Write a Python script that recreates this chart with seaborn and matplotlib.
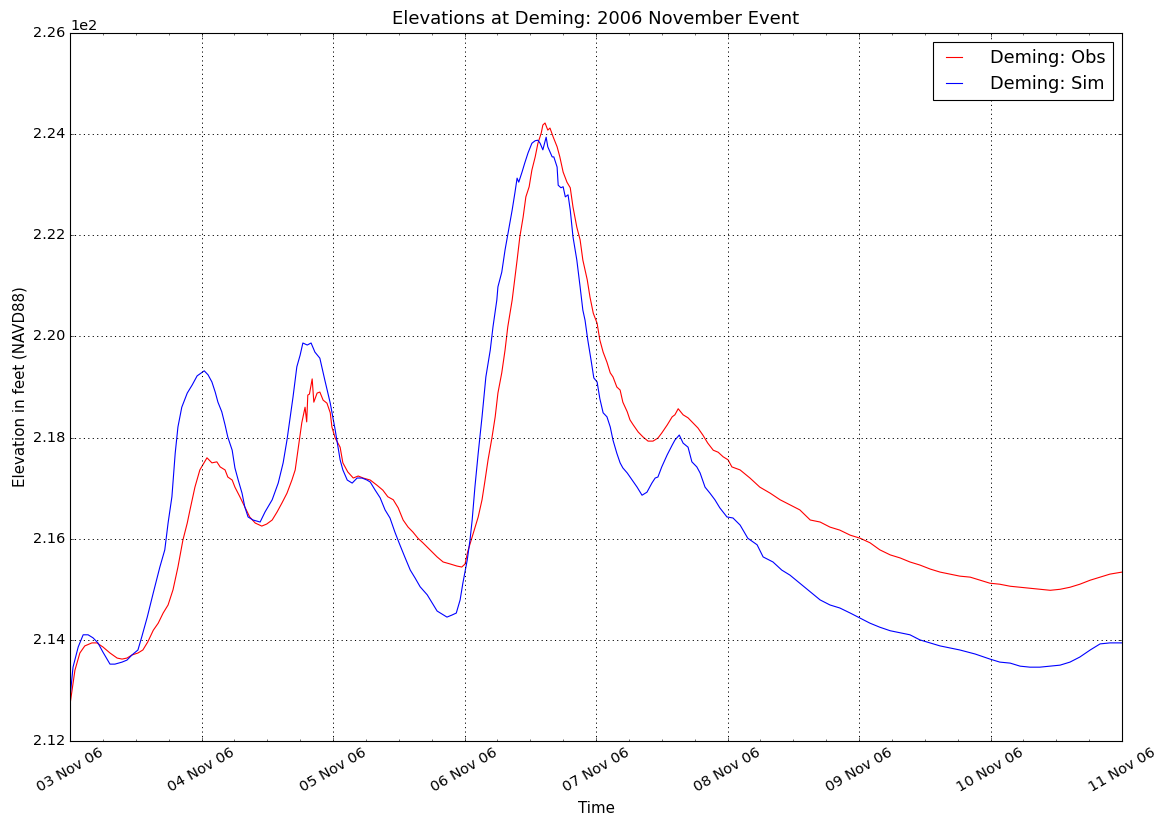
import matplotlib
matplotlib.use("Agg")
import matplotlib.pyplot as plt
import matplotlib.dates as mdates
import numpy as np
import pandas as pd
import seaborn as sns

# Hours after 03 Nov 2006 00:00 and stage (ft, NAVD88) at Deming
obs_hours = [0.0, 0.9, 1.8, 2.7, 4.0, 4.9, 6.0, 7.3, 8.6, 9.5, 10.4, 11.3, 12.4, 13.3,
             14.2, 15.2, 16.1, 17.0, 17.9, 18.8, 19.7, 20.6, 21.4, 21.9, 22.8, 23.7,
             25.0, 25.9, 26.8, 27.4, 28.3, 28.8, 29.6, 30.1, 31.0, 31.9, 32.8, 33.8,
             35.0, 35.9, 36.9, 37.8, 38.7, 39.6, 40.5, 41.1, 41.6, 42.3, 42.9, 43.2,
             43.4, 43.7, 44.2, 44.5, 45.1, 45.6, 46.2, 46.9, 47.5, 47.8, 48.4, 49.3,
             49.8, 50.7, 51.7, 52.6, 53.5, 54.8, 56.0, 57.1, 58.0, 59.0, 59.9, 60.8,
             61.7, 62.6, 63.5, 64.4, 65.7, 67.0, 68.1, 69.4, 70.6, 71.5, 72.1, 72.6,
             73.6, 74.5, 75.2, 75.7, 76.3, 77.0, 77.6, 78.1, 78.8, 79.4, 79.9, 80.7,
             81.6, 82.1, 82.7, 83.2, 83.8, 84.3, 84.9, 85.4, 86.0, 86.3, 86.7, 87.2,
             87.6, 88.2, 88.9, 89.4, 90.0, 90.7, 91.3, 91.8, 92.5, 93.1, 93.6, 94.4,
             94.9, 95.5, 96.2, 96.7, 97.3, 98.0, 98.6, 99.1, 99.8, 100.4, 100.9, 101.7,
             102.2, 102.8, 103.7, 104.6, 105.5, 106.4, 107.3, 108.0, 109.0, 109.9,
             110.4, 111.0, 111.9, 112.8, 113.7, 114.6, 115.5, 116.4, 117.4, 118.3,
             119.2, 120.1, 120.8, 122.3, 124.1, 125.9, 127.8, 129.6, 131.4, 133.2,
             135.1, 136.9, 138.7, 140.5, 142.4, 144.2, 146.0, 147.8, 149.7, 151.5,
             153.3, 155.1, 157.0, 158.8, 160.6, 162.4, 164.3, 166.1, 167.9, 169.7,
             171.6, 173.4, 175.2, 177.0, 178.9, 180.7, 182.5, 184.3, 186.2, 188.0,
             189.8, 192.0]
obs_feet = [212.72, 213.40, 213.74, 213.88, 213.94, 213.94, 213.86, 213.74, 213.64,
            213.62, 213.64, 213.70, 213.74, 213.80, 213.96, 214.19, 214.33, 214.53,
            214.69, 214.99, 215.44, 215.97, 216.31, 216.57, 217.02, 217.36, 217.60,
            217.50, 217.52, 217.42, 217.36, 217.22, 217.16, 217.02, 216.83, 216.63,
            216.43, 216.31, 216.25, 216.29, 216.37, 216.53, 216.71, 216.90, 217.16,
            217.36, 217.75, 218.29, 218.60, 218.31, 218.84, 218.86, 219.16, 218.70,
            218.88, 218.90, 218.74, 218.68, 218.49, 218.21, 217.99, 217.81, 217.50,
            217.32, 217.20, 217.24, 217.20, 217.16, 217.06, 216.96, 216.83, 216.77,
            216.61, 216.37, 216.23, 216.13, 216.01, 215.92, 215.78, 215.64, 215.54,
            215.50, 215.46, 215.44, 215.50, 215.75, 216.11, 216.43, 216.77, 217.12,
            217.56, 217.99, 218.41, 218.88, 219.28, 219.73, 220.19, 220.72, 221.51,
            221.97, 222.36, 222.76, 222.96, 223.29, 223.55, 223.82, 224.02, 224.18,
            224.22, 224.08, 224.12, 223.94, 223.75, 223.55, 223.25, 223.05, 222.94,
            222.56, 222.16, 221.91, 221.51, 221.12, 220.78, 220.46, 220.26, 219.93,
            219.69, 219.49, 219.28, 219.20, 219.00, 218.94, 218.70, 218.51, 218.35,
            218.25, 218.11, 218.01, 217.93, 217.93, 217.99, 218.09, 218.25, 218.41,
            218.45, 218.57, 218.45, 218.39, 218.29, 218.19, 218.05, 217.89, 217.75,
            217.71, 217.62, 217.56, 217.42, 217.36, 217.20, 217.02, 216.90, 216.77,
            216.67, 216.57, 216.37, 216.33, 216.23, 216.17, 216.07, 216.01, 215.92,
            215.78, 215.68, 215.62, 215.54, 215.48, 215.40, 215.34, 215.30, 215.26,
            215.24, 215.18, 215.12, 215.10, 215.06, 215.04, 215.02, 215.00, 214.98,
            215.00, 215.04, 215.10, 215.18, 215.24, 215.30, 215.34]

sim_hours = [0.0, 0.55, 1.5, 2.4, 3.3, 4.2, 5.1, 6.0, 7.3, 8.2, 9.5, 10.4, 11.3, 12.4,
             13.1, 14.1, 15.2, 16.4, 17.3, 17.9, 18.6, 19.2, 19.7, 20.4, 21.4, 22.3,
             23.2, 24.5, 25.2, 25.9, 26.5, 27.0, 27.7, 28.3, 28.8, 29.6, 30.1, 30.7,
             31.4, 31.9, 32.5, 33.4, 34.7, 35.6, 36.9, 38.0, 38.9, 39.6, 40.2, 40.7,
             41.4, 42.0, 42.5, 43.3, 44.0, 44.7, 45.6, 46.5, 47.5, 48.4, 49.3, 49.8,
             50.6, 51.5, 52.4, 53.3, 54.2, 54.8, 55.7, 56.6, 57.5, 58.4, 59.3, 60.2,
             61.1, 62.1, 63.0, 63.9, 65.2, 66.1, 67.0, 67.9, 68.8, 69.7, 70.5, 71.2,
             71.7, 72.5, 73.0, 73.4, 73.9, 74.5, 75.2, 75.9, 76.7, 77.2, 77.9, 78.1,
             78.8, 79.4, 79.9, 80.7, 81.2, 81.6, 81.9, 82.5, 83.0, 83.6, 84.3, 84.9,
             85.4, 85.8, 86.3, 86.9, 87.2, 88.0, 88.3, 88.9, 89.1, 89.6, 90.0, 90.4,
             90.9, 91.3, 91.8, 92.5, 93.1, 93.6, 94.0, 94.5, 95.1, 95.6, 96.2, 96.7,
             97.3, 98.0, 98.6, 99.1, 99.8, 100.4, 100.9, 101.7, 102.6, 103.5, 104.4,
             105.3, 106.2, 106.8, 107.3, 108.0, 109.0, 109.9, 110.4, 111.2, 111.9,
             112.8, 113.5, 114.4, 115.0, 115.9, 116.8, 117.7, 118.6, 119.9, 121.0,
             122.3, 123.7, 125.4, 126.5, 128.3, 129.9, 131.4, 133.2, 135.1, 136.9,
             138.7, 140.5, 142.4, 144.2, 146.0, 147.8, 149.7, 151.5, 153.3, 155.1,
             158.8, 162.4, 165.2, 167.9, 169.7, 171.6, 173.4, 175.2, 177.0, 178.9,
             180.7, 182.5, 184.3, 186.2, 188.0, 189.8, 192.0]
sim_feet = [212.85, 213.46, 213.86, 214.10, 214.10, 214.04, 213.94, 213.76, 213.52,
            213.52, 213.56, 213.60, 213.70, 213.80, 214.06, 214.45, 214.93, 215.44,
            215.78, 216.31, 216.83, 217.69, 218.21, 218.60, 218.88, 219.04, 219.22,
            219.32, 219.24, 219.10, 218.90, 218.70, 218.51, 218.25, 218.01, 217.75,
            217.40, 217.16, 216.90, 216.63, 216.43, 216.37, 216.33, 216.53, 216.77,
            217.10, 217.50, 217.95, 218.41, 218.80, 219.40, 219.63, 219.87, 219.83,
            219.87, 219.69, 219.57, 219.14, 218.68, 218.15, 217.56, 217.36, 217.16,
            217.10, 217.20, 217.20, 217.16, 217.12, 216.96, 216.81, 216.57, 216.41,
            216.13, 215.88, 215.64, 215.38, 215.22, 215.05, 214.89, 214.73, 214.57,
            214.51, 214.45, 214.49, 214.53, 214.79, 215.12, 215.58, 215.97, 216.37,
            217.02, 217.69, 218.41, 219.20, 219.73, 220.19, 220.72, 220.98, 221.27,
            221.71, 222.01, 222.50, 222.84, 223.13, 223.05, 223.25, 223.43, 223.63,
            223.82, 223.87, 223.88, 223.82, 223.69, 223.94, 223.75, 223.55, 223.55,
            223.35, 222.99, 222.94, 222.96, 222.76, 222.80, 222.50, 221.97, 221.51,
            220.98, 220.52, 220.32, 219.93, 219.53, 219.18, 219.10, 218.77, 218.49,
            218.41, 218.21, 217.95, 217.69, 217.50, 217.40, 217.30, 217.16, 217.02,
            216.86, 216.92, 217.10, 217.20, 217.22, 217.42, 217.66, 217.85, 217.95,
            218.05, 217.89, 217.81, 217.52, 217.42, 217.30, 217.02, 216.90, 216.77,
            216.61, 216.43, 216.41, 216.27, 216.01, 215.88, 215.64, 215.54, 215.38,
            215.28, 215.12, 214.95, 214.79, 214.69, 214.63, 214.53, 214.43, 214.33,
            214.25, 214.18, 214.14, 214.10, 214.00, 213.88, 213.80, 213.72, 213.62,
            213.56, 213.54, 213.48, 213.46, 213.46, 213.48, 213.50, 213.56, 213.66,
            213.80, 213.92, 213.94, 213.94]

series_labels = ["Deming: Obs", "Deming: Sim"]
start = pd.Timestamp("2006-11-03 00:00")
end = pd.Timestamp("2006-11-11 00:00")

obs = pd.DataFrame({"time": start + pd.to_timedelta(obs_hours, unit="h"), "stage": obs_feet})
sim = pd.DataFrame({"time": start + pd.to_timedelta(sim_hours, unit="h"), "stage": sim_feet})

plt.style.use("classic")
plt.rcParams.update({
    "figure.facecolor": "white",
    "savefig.facecolor": "white",
    "font.family": ["DejaVu Sans"],
    "xtick.labelsize": 13,
    "ytick.labelsize": 13,
    "axes.labelsize": 13.5,
    "axes.titlesize": 16.2,
    "legend.fontsize": 16,
})

fig = plt.figure(figsize=(1165 / 80, 820 / 80), dpi=80)
ax = fig.add_axes([70 / 1165, 1 - 741 / 820, (1122 - 70) / 1165, (741 - 33) / 820])

sns.lineplot(data=obs, x="time", y="stage", color="r", linewidth=1.0,
             label=series_labels[0], ax=ax)
sns.lineplot(data=sim, x="time", y="stage", color="b", linewidth=1.0,
             label=series_labels[1], ax=ax)

ax.set_xlim(start, end)
ax.set_ylim(212, 226)
ax.set_yticks(np.arange(212, 226.1, 2))
ax.ticklabel_format(axis="y", style="sci", scilimits=(0, 0), useOffset=False)

ax.xaxis.set_major_locator(mdates.DayLocator())
ax.xaxis.set_minor_locator(mdates.HourLocator(byhour=[6, 12, 18]))
ax.xaxis.set_major_formatter(mdates.DateFormatter("%d %b %y"))
for lbl in ax.get_xticklabels():
    lbl.set_rotation(30)
    lbl.set_ha("center")

ax.grid(True, which="major", color="k", linestyle=":", linewidth=0.9)
ax.set_title("Elevations at Deming: 2006 November Event", pad=8)
ax.set_xlabel("Time", labelpad=6)
ax.set_ylabel("Elevation in feet (NAVD88)", labelpad=5)
ax.legend(loc="upper right", borderpad=0.4, labelspacing=0.45,
          handlelength=1.5, handletextpad=1.3, borderaxespad=0.5)

fig.savefig("out.png", dpi=80)
